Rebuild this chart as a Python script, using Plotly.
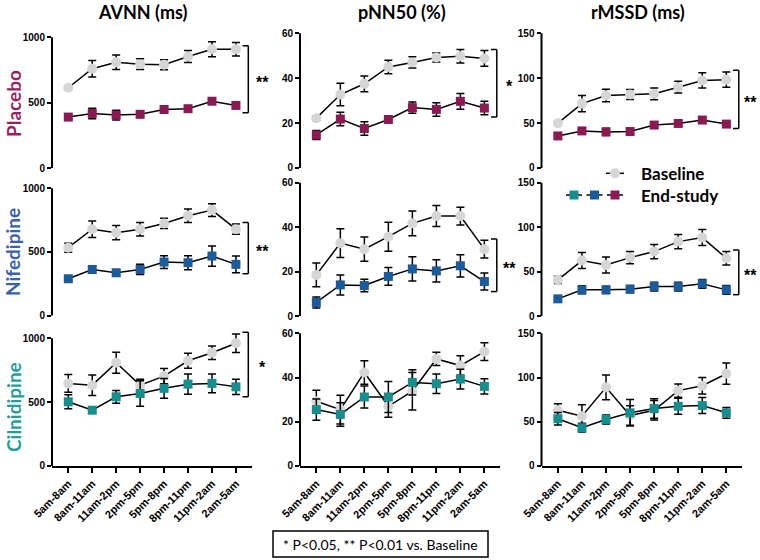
import plotly.graph_objects as go

# ---------------- data ----------------
categories = ["5am-8am", "8am-11am", "11am-2pm", "2pm-5pm",
              "5pm-8pm", "8pm-11pm", "11pm-2am", "2am-5am"]

metrics = ["AVNN (ms)", "pNN50 (%)", "rMSSD (ms)"]
groups = ["Placebo", "Nifedipine", "Cilnidipine"]

# AVNN (ms)
avnn_placebo_base = [615, 760, 810, 795, 790, 853, 909, 909]
avnn_placebo_base_err = [8, 63, 55, 41, 38, 46, 57, 52]
avnn_placebo_end = [391, 419, 406, 412, 449, 455, 512, 480]
avnn_placebo_end_err = [15, 40, 38, 18, 15, 18, 22, 22]
avnn_nif_base = [534, 679, 652, 679, 724, 784, 829, 679]
avnn_nif_base_err = [35, 65, 56, 53, 40, 53, 50, 40]
avnn_nif_end = [290, 363, 337, 363, 421, 416, 468, 403]
avnn_nif_end_err = [15, 28, 20, 40, 50, 55, 80, 65]
avnn_cil_base = [647, 633, 808, 633, 704, 824, 887, 961]
avnn_cil_base_err = [70, 80, 82, 47, 60, 58, 53, 73]
avnn_cil_end = [503, 437, 542, 568, 608, 641, 647, 620]
avnn_cil_end_err = [55, 20, 50, 100, 78, 80, 73, 60]

# pNN50 (%)
pnn_placebo_base = [22.2, 32.7, 37.5, 45.0, 47.0, 49.2, 49.8, 48.8]
pnn_placebo_base_err = [1, 5, 3.5, 3, 2.5, 2, 3, 3.5]
pnn_placebo_end = [14.7, 21.8, 17.6, 21.6, 26.9, 26.1, 29.7, 26.7]
pnn_placebo_end_err = [2, 3, 3, 1.5, 2.5, 3, 3.5, 3]
pnn_nif_base = [18.5, 32.8, 30.1, 35.7, 41.7, 45.0, 45.0, 30.1]
pnn_nif_base_err = [5.3, 6.5, 5.5, 6.5, 5.6, 4.7, 4, 4]
pnn_nif_end = [6.1, 14.0, 13.7, 17.8, 21.2, 20.3, 22.6, 15.5]
pnn_nif_end_err = [2.5, 4.5, 2.8, 4, 5.5, 5, 5, 3.8]
pnn_cil_base = [29.3, 25.5, 42.3, 27.0, 33.8, 48.4, 45.4, 51.7]
pnn_cil_base_err = [5, 6.5, 5.3, 5, 8.5, 3, 4.4, 4]
pnn_cil_end = [25.5, 23.3, 31.2, 31.2, 37.8, 37.2, 39.3, 36.0]
pnn_cil_end_err = [4.8, 5.3, 5, 7, 5.7, 4.4, 4.5, 3.5]

# rMSSD (ms)
rmssd_placebo_base = [50, 71.7, 80.7, 81.8, 82.6, 90, 97.5, 98.3]
rmssd_placebo_base_err = [2, 9, 7, 5.5, 6.5, 6.5, 8.5, 8.5]
rmssd_placebo_end = [35.7, 41.3, 40.2, 40.6, 47.8, 49.6, 53.4, 48.9]
rmssd_placebo_end_err = [3, 2.5, 4, 3, 3, 3, 3, 3]
rmssd_nif_base = [40.7, 62.4, 57.5, 65.7, 72.5, 83.7, 88.2, 65.0]
rmssd_nif_base_err = [4, 9, 9, 7, 8, 8, 9, 7.5]
rmssd_nif_end = [19.3, 29.4, 29.4, 30.2, 33.1, 33.1, 36.2, 29.4]
rmssd_nif_end_err = [2, 4.5, 4, 4, 5, 5, 5, 5]
rmssd_cil_base = [63, 56.3, 88.9, 57, 63, 85.2, 90.8, 104.3]
rmssd_cil_base_err = [7.5, 13, 14, 11, 11, 7.5, 9.3, 12]
rmssd_cil_end = [53.4, 43.3, 52.6, 60.1, 65, 67.5, 68.3, 60.1]
rmssd_cil_end_err = [7, 5, 5, 15, 11, 9, 9, 6]

y_ticks = [[0, 500, 1000], [0, 20, 40, 60], [0, 50, 100, 150]]

# significance brackets: (row, col, y_low, y_high, label)
brackets = [
    (0, 0, 424, 936, "**"), (0, 1, 22.7, 52.8, "*"), (0, 2, 44, 108.8, "**"),
    (1, 0, 329, 732, "**"), (1, 1, 11, 34.7, "**"), (1, 2, 24, 74.4, "**"),
    (2, 0, 542, 1047, "*"),
]

# ---------------- styling ----------------
base_color = "#d6d6d6"
end_colors = ["#8c1a52", "#1b5a9b", "#168e8e"]
label_colors = ["#9b1f5f", "#3a62a8", "#1e9e9e"]

data = {
    (0, 0): (avnn_placebo_base, avnn_placebo_base_err, avnn_placebo_end, avnn_placebo_end_err),
    (1, 0): (avnn_nif_base, avnn_nif_base_err, avnn_nif_end, avnn_nif_end_err),
    (2, 0): (avnn_cil_base, avnn_cil_base_err, avnn_cil_end, avnn_cil_end_err),
    (0, 1): (pnn_placebo_base, pnn_placebo_base_err, pnn_placebo_end, pnn_placebo_end_err),
    (1, 1): (pnn_nif_base, pnn_nif_base_err, pnn_nif_end, pnn_nif_end_err),
    (2, 1): (pnn_cil_base, pnn_cil_base_err, pnn_cil_end, pnn_cil_end_err),
    (0, 2): (rmssd_placebo_base, rmssd_placebo_base_err, rmssd_placebo_end, rmssd_placebo_end_err),
    (1, 2): (rmssd_nif_base, rmssd_nif_base_err, rmssd_nif_end, rmssd_nif_end_err),
    (2, 2): (rmssd_cil_base, rmssd_cil_base_err, rmssd_cil_end, rmssd_cil_end_err),
}

W, H = 760, 560
def fx(p):
    return p / W
def fy(p):
    return 1 - p / H

col_px = [(52, 251.5), (300, 500), (541.5, 742)]
# (top tick px, zero px) for each row, per column
row_px = [
    [(37.3, 168.3), (188.3, 315.7), (338.3, 466)],   # AVNN column
    [(33.3, 168.0), (182.7, 316), (333.3, 466)],     # pNN50
    [(33.3, 168.0), (182.7, 316), (333.3, 466)],     # rMSSD
]
EXT = 1.06
X_RANGE = [-0.68, 7.65]

fig = go.Figure()
layout = {}
shapes = []
annotations = []
tick_font = dict(family="Liberation Sans, Arial", size=10, color="black", weight="bold")

for r in range(3):
    for c in range(3):
        n = r * 3 + c + 1
        xa = "x" if n == 1 else f"x{n}"
        ya = "y" if n == 1 else f"y{n}"
        base, base_err, end, end_err = data[(r, c)]
        fig.add_trace(go.Scatter(
            x=categories, y=base, xaxis=xa, yaxis=ya, mode="lines+markers",
            line=dict(color="black", width=1.5),
            marker=dict(symbol="circle", size=10, color=base_color),
            error_y=dict(type="data", array=base_err, color="black", thickness=1.5, width=4),
            showlegend=False, cliponaxis=False))
        fig.add_trace(go.Scatter(
            x=categories, y=end, xaxis=xa, yaxis=ya, mode="lines+markers",
            line=dict(color="black", width=1.5),
            marker=dict(symbol="square", size=9, color=end_colors[r]),
            error_y=dict(type="data", array=end_err, color="black", thickness=1.5, width=4),
            showlegend=False, cliponaxis=False))

        top_px, zero_px = row_px[c][r]
        ymax = y_ticks[c][-1]
        dom_top = zero_px - (zero_px - top_px) * EXT
        bottom = (r == 2)
        layout["xaxis" if n == 1 else f"xaxis{n}"] = dict(
            domain=[fx(col_px[c][0]), fx(col_px[c][1])], anchor=ya, automargin=False,
            type="category", categoryorder="array", categoryarray=categories,
            range=X_RANGE, showgrid=False, zeroline=False,
            showline=bottom, linecolor="black", linewidth=2,
            ticks="outside" if bottom else "", ticklen=5, tickwidth=1.5, tickcolor="black",
            showticklabels=bottom, tickangle=-45,
            tickfont=dict(family="Liberation Sans, Arial", size=11, color="black", weight="bold"),
        )
        layout["yaxis" if n == 1 else f"yaxis{n}"] = dict(
            domain=[fy(zero_px), fy(dom_top)], anchor=xa, automargin=False,
            range=[0, ymax * EXT], showgrid=False, zeroline=False, showline=False,
            tickmode="array", tickvals=y_ticks[c], ticktext=[str(v) for v in y_ticks[c]],
            ticks="outside", ticklen=4, tickwidth=1.5, tickcolor="black",
            tickfont=tick_font,
        )
        # y axis line from 0 to top tick
        shapes.append(dict(type="line", xref=f"{xa} domain", yref=ya,
                           x0=0, x1=0, y0=0, y1=ymax,
                           line=dict(color="black", width=2)))

# brackets
star_x_px = [262, 509, 750]
for (r, c, ylo, yhi, lab) in brackets:
    n = r * 3 + c + 1
    xa = "x" if n == 1 else f"x{n}"
    ya = "y" if n == 1 else f"y{n}"
    bx, tx = 0.984, 0.955
    for (x0, x1, y0, y1) in [(bx, bx, ylo, yhi), (tx, bx, yhi, yhi), (tx, bx, ylo, ylo)]:
        shapes.append(dict(type="line", xref=f"{xa} domain", yref=ya,
                           x0=x0, x1=x1, y0=y0, y1=y1,
                           line=dict(color="black", width=1.5)))
    annotations.append(dict(xref="paper", yref=ya, x=fx(star_x_px[c]), y=(ylo + yhi) / 2,
                            text=f"<b>{lab}</b>", showarrow=False, xanchor="center",
                            yanchor="middle", yshift=-3, borderpad=0,
                            font=dict(family="Liberation Sans, Arial", size=16, color="black")))

# column titles
col_centers = [143, 402, 638]
for c, t in enumerate(metrics):
    annotations.append(dict(xref="paper", yref="paper", x=fx(col_centers[c]), y=fy(12),
                            text=f"<b>{t}</b>", showarrow=False,
                            xanchor="center", yanchor="middle",
                            font=dict(family="Lato", size=18, color="black")))

# row titles
row_centers = [104, 252, 407]
for r, g in enumerate(groups):
    annotations.append(dict(xref="paper", yref="paper", x=fx(13), y=fy(row_centers[r]),
                            text=f"<b>{g}</b>", showarrow=False, textangle=-90,
                            xanchor="center", yanchor="middle",
                            font=dict(family="Lato", size=19, color=label_colors[r])))

# legend
ly1, ly2 = 173.3, 195
shapes.append(dict(type="line", xref="paper", yref="paper", x0=fx(606), x1=fx(624),
                   y0=fy(ly1), y1=fy(ly1), line=dict(color="black", width=1.5)))
shapes.append(dict(type="circle", xref="paper", yref="paper", x0=fx(610), x1=fx(620),
                   y0=fy(ly1 + 5), y1=fy(ly1 - 5), fillcolor=base_color,
                   line=dict(width=0)))
for cx, col in zip([574, 594.5, 615], [end_colors[2], end_colors[1], end_colors[0]]):
    shapes.append(dict(type="line", xref="paper", yref="paper", x0=fx(cx - 8), x1=fx(cx + 8),
                       y0=fy(ly2), y1=fy(ly2), line=dict(color="black", width=1.5)))
    shapes.append(dict(type="rect", xref="paper", yref="paper", x0=fx(cx - 4.5), x1=fx(cx + 4.5),
                       y0=fy(ly2 + 4.5), y1=fy(ly2 - 4.5), fillcolor=col, line=dict(width=0)))
annotations.append(dict(xref="paper", yref="paper", x=fx(639), y=fy(ly1), text="<b>Baseline</b>",
                        showarrow=False, xanchor="left", yanchor="middle",
                        font=dict(family="Lato", size=17, color="black")))
annotations.append(dict(xref="paper", yref="paper", x=fx(639), y=fy(ly2), text="<b>End-study</b>",
                        showarrow=False, xanchor="left", yanchor="middle",
                        font=dict(family="Lato", size=17, color="black")))

# footnote box
shapes.append(dict(type="rect", xref="paper", yref="paper", x0=fx(273), x1=fx(488),
                   y0=fy(557), y1=fy(531), line=dict(color="black", width=1.5),
                   fillcolor="rgba(0,0,0,0)"))
annotations.append(dict(xref="paper", yref="paper", x=fx(380.5), y=fy(544),
                        text="* P<0.05, ** P<0.01 vs. Baseline", showarrow=False,
                        xanchor="center", yanchor="middle",
                        font=dict(family="Lato", size=14, color="black")))

fig.update_layout(
    template="none",
    width=W, height=H, margin=dict(l=0, r=0, t=0, b=0, autoexpand=False),
    paper_bgcolor="white", plot_bgcolor="white",
    showlegend=False, shapes=shapes, annotations=annotations, **layout)

fig.write_html(
    "out.html",
    config={"displayModeBar": False},
    post_script="document.body.style.margin='0';document.body.style.overflow='hidden';",
)
